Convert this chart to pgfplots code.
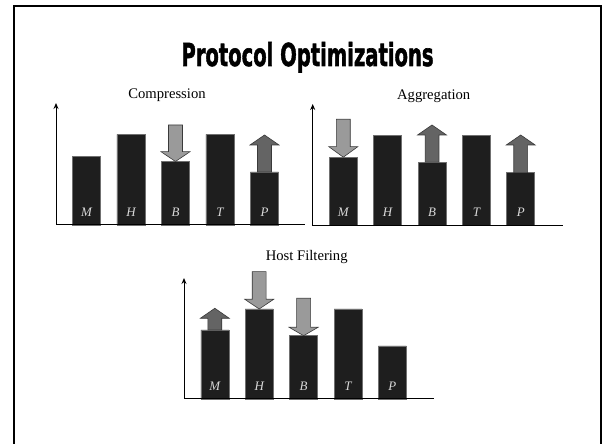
\documentclass[border=0pt]{standalone}
\usepackage{pgfplots}
\pgfplotsset{compat=1.18}
\usepackage{fontspec}
\setmainfont{Liberation Serif}
\newfontfamily\titlefont{DejaVu Sans}[BoldFeatures={FakeBold=2}]
\usetikzlibrary{arrows.meta}
\definecolor{barfill}{HTML}{1E1E1E}
\definecolor{baredge}{HTML}{707070}
\definecolor{downarrow}{HTML}{9A9A9A}
\definecolor{uparrow}{HTML}{646464}
\definecolor{arrowedge}{HTML}{3A3A3A}
\definecolor{labelgray}{HTML}{D8D8D8}
\pgfplotsset{
  panel/.style={
    scale only axis, anchor=south west,
    axis lines=left, axis on top,
    x axis line style={-, line width=1bp},
    y axis line style={-{Stealth[length=6bp,width=5bp]}, line width=1bp},
    ymin=0,
    xtick={0,1,2,3,4}, xticklabels={M,H,B,T,P},
    ytick=\empty,
    major tick length=0pt,
    xticklabel style={anchor=center, yshift=13bp, font=\fontsize{13}{13}\selectfont\itshape, text=labelgray},
    clip=false,
  },
  bars/.style={ybar, bar width=0.63, fill=barfill, draw=baredge, line width=0.6bp},
  darr/.style={fill=downarrow, draw=arrowedge, line width=0.6bp},
  uarr/.style={fill=uparrow, draw=arrowedge, line width=0.6bp},
}
\begin{document}
\begin{tikzpicture}[x=1bp,y=1bp]
\clip (0,0) rectangle (602,444);
\fill[white] (0,0) rectangle (602,444);
\draw[line width=2.4bp] (13.8,-20) -- (13.8,437.8) -- (601.3,437.8) -- (601.3,-20);
\node[anchor=base] at (307.5,378) {\resizebox{252bp}{24bp}{\titlefont\bfseries Protocol Optimizations}};

\node at (167,349) {\fontsize{14.7}{16}\selectfont Compression};
\node at (433.7,347.3) {\fontsize{14.7}{16}\selectfont Aggregation};
\node at (306.7,187.3) {\fontsize{14.7}{16}\selectfont Host Filtering};

% Compression
\begin{axis}[panel, at={(56bp,219bp)}, width=249bp, height=122bp,
  xmin=-0.685, xmax=4.91, ymax=122]
\addplot[bars] coordinates {(0,68.5) (1,90.5) (2,63.5) (3,90.5) (4,53)};
\addplot[darr] coordinates {(1.843,100) (2.157,100) (2.157,73.3) (2.326,73.3) (2,63.5) (1.674,73.3) (1.843,73.3)} -- cycle;
\addplot[uarr] coordinates {(3.843,53) (4.157,53) (4.157,80) (4.326,80) (4,90) (3.674,80) (3.843,80)} -- cycle;
\end{axis}

% Aggregation
\begin{axis}[panel, at={(312.7bp,218.3bp)}, width=250bp, height=121.7bp,
  xmin=-0.69, xmax=4.947, ymax=121.7]
\addplot[bars] coordinates {(0,68.5) (1,90.5) (2,63.5) (3,90.5) (4,53)};
\addplot[darr] coordinates {(-0.157,106.4) (0.157,106.4) (0.157,79) (0.326,79) (0,68.5) (-0.326,79) (-0.157,79)} -- cycle;
\addplot[uarr] coordinates {(1.843,63.5) (2.157,63.5) (2.157,90.7) (2.326,90.7) (2,100.7) (1.674,90.7) (1.843,90.7)} -- cycle;
\addplot[uarr] coordinates {(3.843,53) (4.157,53) (4.157,80.7) (4.326,80.7) (4,90.7) (3.674,80.7) (3.843,80.7)} -- cycle;
\end{axis}

% Host Filtering
\begin{axis}[panel, at={(184bp,45bp)}, width=250bp, height=121bp,
  xmin=-0.694, xmax=4.937, ymax=121]
\addplot[bars] coordinates {(0,69) (1,90) (2,63.3) (3,90) (4,53)};
\addplot[uarr] coordinates {(-0.157,69) (0.157,69) (0.157,80.7) (0.326,80.7) (0,90.7) (-0.326,80.7) (-0.157,80.7)} -- cycle;
\addplot[darr] coordinates {(0.843,127.3) (1.157,127.3) (1.157,99.7) (1.326,99.7) (1,90) (0.674,99.7) (0.843,99.7)} -- cycle;
\addplot[darr] coordinates {(1.843,100.7) (2.157,100.7) (2.157,71.7) (2.326,71.7) (2,63.3) (1.674,71.7) (1.843,71.7)} -- cycle;
\end{axis}
\end{tikzpicture}
\end{document}
